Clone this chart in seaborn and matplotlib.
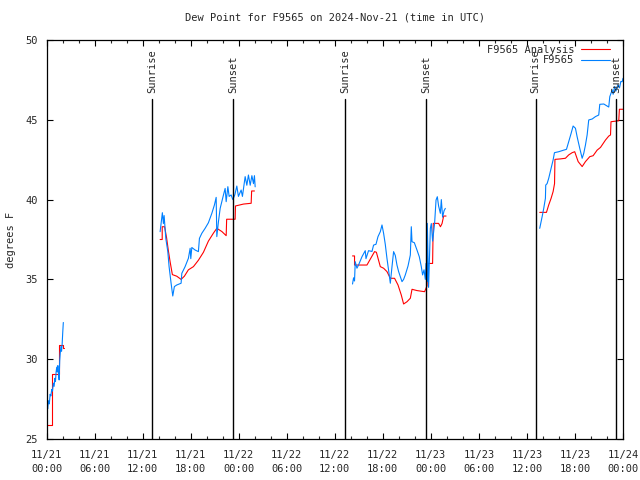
import numpy as np
import pandas as pd
import matplotlib
matplotlib.use('Agg')
import matplotlib.pyplot as plt
from matplotlib.lines import Line2D
from matplotlib.ticker import MultipleLocator, FixedLocator
import seaborn as sns

# hours since 2024-11-21 00:00 UTC, dew point in degrees F
# F9565 Analysis (red), one list per data segment
ana_h = [
    [0.0, 0.65, 0.65, 1.6, 1.6, 2.05, 2.05, 2.15],
    [14.19, 14.45, 14.45, 14.75, 15.0, 15.22, 15.44, 15.72, 16.27, 16.81, 17.22, 17.72,
     18.35, 18.97, 19.6, 20.22, 20.85, 21.27, 21.9, 22.44, 22.5, 23.56, 23.6, 24.6,
     25.56, 25.62, 25.97],
    [38.22, 38.47, 38.47, 40.02, 40.97, 41.2, 41.69, 42.1, 42.52, 42.94, 43.47, 43.9,
     44.31, 44.6, 45.02, 45.44, 45.65, 46.27, 47.22, 47.52, 47.6, 48.22, 48.3, 48.97,
     49.2, 49.4, 49.6, 49.9],
    [61.6, 62.44, 62.72, 63.02, 63.27, 63.45, 63.5, 64.19, 64.81, 65.22, 65.65, 65.97,
     66.4, 66.9, 67.31, 67.85, 68.27, 68.77, 69.19, 69.81, 70.22, 70.44, 70.5, 71.47,
     71.55, 72.0],
]
ana_v = [
    [25.9, 25.9, 29.1, 29.1, 30.9, 30.9, 30.7, 30.7],
    [37.5, 37.5, 38.3, 38.3, 37.6, 36.8, 36.1, 35.3, 35.2, 35.0, 35.2, 35.6,
     35.8, 36.2, 36.7, 37.4, 37.9, 38.2, 38.0, 37.74, 38.77, 38.77, 39.6, 39.72,
     39.77, 40.54, 40.54],
    [36.47, 36.47, 35.9, 35.9, 36.74, 36.7, 35.8, 35.7, 35.49, 35.07, 35.07, 34.65,
     34.02, 33.46, 33.6, 33.82, 34.38, 34.3, 34.23, 34.59, 36.0, 36.0, 38.51, 38.51,
     38.3, 38.5, 38.97, 38.97],
    [39.2, 39.2, 39.66, 40.08, 40.5, 41.0, 42.52, 42.55, 42.59, 42.8, 42.94, 43.0,
     42.38, 42.07, 42.38, 42.69, 42.75, 43.1, 43.27, 43.73, 43.98, 44.05, 44.88, 44.94,
     45.66, 45.66],
]

# F9565 observations (blue)
obs_h = [
    [0.0, 0.08, 0.15, 0.25, 0.35, 0.45, 0.55, 0.65, 0.75, 0.85, 0.95, 1.05, 1.12,
     1.2, 1.28, 1.35, 1.42, 1.5, 1.58, 1.65, 1.72, 1.8, 1.88, 1.95, 2.02, 2.1],
    [14.19, 14.47, 14.6, 14.69, 14.9, 15.15, 15.31, 15.56, 15.77, 15.97, 16.27, 16.81,
     16.9, 17.31, 17.72, 17.94, 18.02, 18.15, 18.56, 18.97, 19.1, 19.4, 19.81, 20.22,
     20.65, 20.97, 21.19, 21.27, 21.47, 21.69, 22.1, 22.31, 22.44, 22.65, 22.81, 23.06,
     23.27, 23.52, 23.77, 23.97, 24.31, 24.47, 24.81, 25.02, 25.22, 25.44, 25.65, 25.85,
     25.97, 26.06],
    [38.22, 38.35, 38.47, 38.56, 38.77, 38.97, 39.4, 39.81, 39.9, 40.22, 40.65, 40.85,
     41.15, 41.4, 41.69, 41.9, 42.1, 42.31, 42.52, 42.72, 42.94, 43.15, 43.35, 43.56,
     43.77, 43.97, 44.19, 44.4, 44.6, 44.81, 45.15, 45.44, 45.56, 45.65, 45.94, 46.27,
     46.56, 46.81, 46.97, 47.15, 47.31, 47.4, 47.52, 47.56, 47.72, 47.94, 48.06, 48.22,
     48.47, 48.65, 48.81, 48.97, 49.19, 49.31, 49.47, 49.65, 49.81],
    [61.6, 61.9, 62.1, 62.31, 62.35, 62.52, 62.72, 63.02, 63.27, 63.44, 63.97, 64.6,
     64.94, 65.22, 65.52, 65.77, 66.06, 66.27, 66.6, 66.9, 67.1, 67.31, 67.52, 67.72,
     68.15, 68.56, 68.97, 69.1, 69.6, 70.02, 70.22, 70.35, 70.65, 70.77, 70.94, 71.12,
     71.35, 71.56, 71.73, 71.9, 72.0],
]
obs_v = [
    [26.4, 27.1, 26.9, 27.4, 27.2, 27.8, 27.7, 28.1, 28.0, 28.5, 28.3, 28.8, 28.6,
     29.2, 29.5, 29.2, 29.6, 29.1, 28.7, 29.9, 30.4, 30.8, 30.5, 30.9, 31.6, 32.3],
    [37.99, 39.18, 38.5, 39.0, 37.57, 36.74, 35.8, 34.76, 33.96, 34.55, 34.65, 34.76,
     35.38, 35.8, 36.32, 36.95, 36.3, 37.0, 36.84, 36.74, 37.57, 37.89, 38.2, 38.55,
     39.14, 39.66, 40.14, 37.68, 38.6, 39.45, 40.29, 40.7, 39.87, 40.81, 40.2, 40.29,
     40.0, 40.3, 40.85, 40.2, 40.6, 40.2, 41.44, 40.9, 41.54, 40.9, 41.5, 41.0,
     41.5, 40.8],
    [34.71, 35.1, 34.9, 36.11, 35.7, 35.9, 36.42, 36.8, 36.3, 36.8, 36.75, 37.15,
     37.2, 37.68, 37.99, 38.41, 37.89, 37.2, 36.32, 35.59, 34.76, 35.8, 36.74, 36.5,
     35.9, 35.5, 35.17, 34.86, 35.0, 35.28, 35.84, 36.53, 38.3, 37.36, 37.3, 36.84,
     36.42, 35.8, 35.28, 35.6, 35.0, 36.0, 34.86, 38.51, 34.5, 38.2, 38.5, 37.4,
     38.51, 39.97, 40.18, 39.6, 39.14, 40.0, 38.9, 39.3, 39.45],
    [38.2, 38.93, 39.45, 40.08, 40.91, 41.0, 41.33, 41.96, 42.48, 42.94, 43.0, 43.1,
     43.15, 43.63, 44.15, 44.61, 44.47, 43.94, 43.21, 42.59, 42.9, 43.42, 44.05, 44.99,
     45.05, 45.2, 45.3, 45.97, 45.99, 45.86, 45.8, 46.45, 46.87, 46.6, 47.08, 46.8,
     47.18, 47.0, 47.4, 47.39, 47.6],
]

sunrise_h = [13.22, 37.28, 61.1]
sunset_h = [23.35, 47.42, 71.1]

tick_labels = ['11/21\n00:00', '11/21\n06:00', '11/21\n12:00', '11/21\n18:00',
               '11/22\n00:00', '11/22\n06:00', '11/22\n12:00', '11/22\n18:00',
               '11/23\n00:00', '11/23\n06:00', '11/23\n12:00', '11/23\n18:00',
               '11/24\n00:00']

rows = []
for name, hs, vs in [('F9565 Analysis', ana_h, ana_v), ('F9565', obs_h, obs_v)]:
    for i, (h, v) in enumerate(zip(hs, vs)):
        for a, b in zip(h, v):
            rows.append({'hour': a, 'value': b, 'series': name, 'seg': i})
df = pd.DataFrame(rows)

sns.set_style('ticks')
plt.rcParams['font.family'] = ['DejaVu Sans Mono']
plt.rcParams['font.size'] = 7.5

colors = {'F9565 Analysis': '#ff0000', 'F9565': '#0080ff'}

fig = plt.figure(figsize=(6.4, 4.8), dpi=100)
ax = fig.add_axes([46.5 / 640, 1 - 439 / 480, 576.5 / 640, 399 / 480])

sns.lineplot(data=df, x='hour', y='value', hue='series', units='seg', estimator=None,
             sort=False, palette=colors, linewidth=0.8, legend=False, ax=ax)

# sunrise / sunset markers
for hs, lab in [(sunrise_h, 'Sunrise'), (sunset_h, 'Sunset')]:
    for h in hs:
        ax.plot([h, h], [25, 46.3], color='black', lw=1.0)
        ax.text(h, 46.65, lab, rotation=90, ha='center', va='bottom', fontsize=7.5)

ax.set_xlim(0, 72)
ax.set_ylim(25, 50)
ax.xaxis.set_major_locator(FixedLocator(np.arange(0, 73, 6)))
ax.set_xticklabels(tick_labels, linespacing=1.45)
ax.xaxis.set_minor_locator(MultipleLocator(2))
ax.yaxis.set_major_locator(MultipleLocator(5))
ax.tick_params(which='major', direction='in', length=4, width=0.8, top=True, right=True,
               labelsize=7.5, color='black')
ax.tick_params(which='minor', direction='in', length=2, width=0.8, top=True, right=True)
ax.tick_params(axis='x', pad=8)
ax.tick_params(axis='y', pad=6)
for s in ax.spines.values():
    s.set_linewidth(0.9)
    s.set_color('black')

ax.set_xlabel('')
ax.set_ylabel('degrees F', fontsize=7.5, labelpad=7)
ax.set_title('Dew Point for F9565 on 2024-Nov-21 (time in UTC)', fontsize=7.5, pad=14)

handles = [Line2D([], [], color=colors['F9565 Analysis'], lw=0.8),
           Line2D([], [], color=colors['F9565'], lw=0.8)]
ax.legend(handles, ['F9565 Analysis', 'F9565'], loc='upper right',
          bbox_to_anchor=(0.9775, 0.988), frameon=False, markerfirst=False,
          borderaxespad=0, borderpad=0, handlelength=2.8, handletextpad=0.65,
          labelspacing=0.05, fontsize=7.5)

fig.savefig('out.png', dpi=100)
